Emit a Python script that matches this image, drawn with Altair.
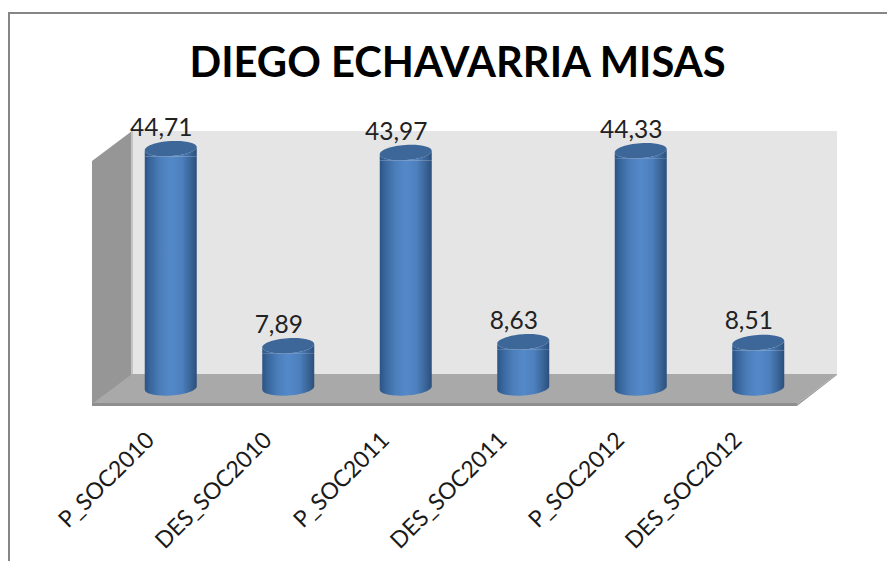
import altair as alt
import pandas as pd

TITLE = "DIEGO ECHAVARRIA MISAS"
categories = ["P_SOC2010", "DES_SOC2010", "P_SOC2011", "DES_SOC2011", "P_SOC2012", "DES_SOC2012"]
values = [44.71, 7.89, 43.97, 8.63, 44.33, 8.51]
labels = ["44,71", "7,89", "43,97", "8,63", "44,33", "8,51"]

df = pd.DataFrame({"cat": categories, "value": values, "label": labels})
one = pd.DataFrame({"k": [0]})

FONT = "Lato"

stops = [("#2b5485", 0), ("#3a689f", 0.12), ("#4b7eba", 0.3), ("#5489c9", 0.5),
         ("#4c7fbc", 0.72), ("#3a6598", 0.88), ("#2b4f7c", 1)]
grad = alt.LinearGradient(
    gradient="linear", x1=0, x2=1, y1=0, y2=0,
    stops=[alt.GradientStop(color=c, offset=o) for c, o in stops],
)

x = alt.X("cat:N", sort=categories, scale=alt.Scale(paddingInner=0, paddingOuter=0),
          axis=alt.Axis(title=None, domain=False, ticks=False, labelAngle=-45, labelAlign="right",
                        labelBaseline="middle", labelFont=FONT, labelFontSize=23, labelColor="#1a1a1a",
                        labelPadding=48, labelOffset=-20))
y = alt.Y("value:Q", scale=alt.Scale(domain=[0, 48], nice=False, zero=True), axis=None)
y0 = alt.Y(datum=0, scale=alt.Scale(domain=[0, 48], nice=False, zero=True), axis=None)


def chrome(path, fill, stroke=None, sw=0):
    kw = dict(shape=path, size=4, filled=True, fill=fill, opacity=1, strokeWidth=sw)
    if stroke:
        kw["stroke"] = stroke
    else:
        kw["strokeOpacity"] = 0
    return alt.Chart(one).mark_point(**kw).encode(x=alt.value(0), y=alt.value(0))


# all chrome paths are relative to the plot origin
frame_top = chrome("M-104,-119 L775,-119 L775,-117 L-104,-117 Z", "#868686")
frame_left = chrome("M-104,-119 L-102,-119 L-102,430 L-104,430 Z", "#868686")
back_wall = chrome("M20,0 L725,0 L725,244 L20,244 Z", "#e5e5e5")
left_wall = chrome("M-20,30 L20,0 L20,244 L-20,274 Z", "#969696")
left_edge = chrome("M19,0 L21,0 L21,244 L19,245 Z", "#c4c4c4")
floor = chrome("M20,243 L725,243 L685,273 L-20,273 Z", "#a9a9a9")
floor_front = chrome("M-20,272 L685,272 L685,275 L-20,275 Z", "#8f8f8f")
floor_side = chrome("M725,243 L685,273 L685,275 L725,244 Z", "#9a9a9a")

# cylinder caps (local pixels around the value position)
bottom_cap = "M-26,-6 L-26,1.8 A26,7.5 -4 0 0 26,-1.8 L26,-6 Z"
upper_body = "M-26,1.8 A26,7.5 -4 0 0 26,-1.8 L26,8 L-26,8 Z"
top_ell = "M-26,1.8 A26,7.5 -4 1 1 26,-1.8 A26,7.5 -4 1 1 -26,1.8 Z"

base = alt.Chart(df)
cap_b = base.mark_point(shape=bottom_cap, size=4, filled=True, fill=grad, opacity=1, strokeWidth=0).encode(x=x, y=y0)
body = base.mark_bar(size=52, fill=grad, yOffset=8, y2Offset=-6).encode(x=x, y=y, y2=alt.Y2(datum=0))
cap_u = base.mark_point(shape=upper_body, size=4, filled=True, fill=grad, opacity=1, strokeWidth=0).encode(x=x, y=y)
cap_t = base.mark_point(shape=top_ell, size=4, filled=True, fill="#3d6699", opacity=1, strokeWidth=0).encode(x=x, y=y)
text = base.mark_text(font=FONT, fontSize=24.5, color="#222222", dx=-9.5, dy=-20, baseline="middle").encode(
    x=x, y=y, text="label:N")

chart = alt.layer(
    frame_top, frame_left, back_wall, left_wall, left_edge, floor, floor_front, floor_side,
    cap_b, body, cap_u, cap_t, text,
).properties(
    width=705, height=257,
    padding={"left": 104, "top": 123, "right": 70, "bottom": 173},
    autosize=alt.AutoSizeParams(type="none"),
    title=alt.TitleParams(TITLE, font=FONT, fontSize=41.7, fontWeight="bold", color="#000000",
                          anchor="middle", dx=-7, offset=-74),
).configure_view(stroke=None)

chart.save("out.html", embed_options={"renderer": "svg", "actions": False})
